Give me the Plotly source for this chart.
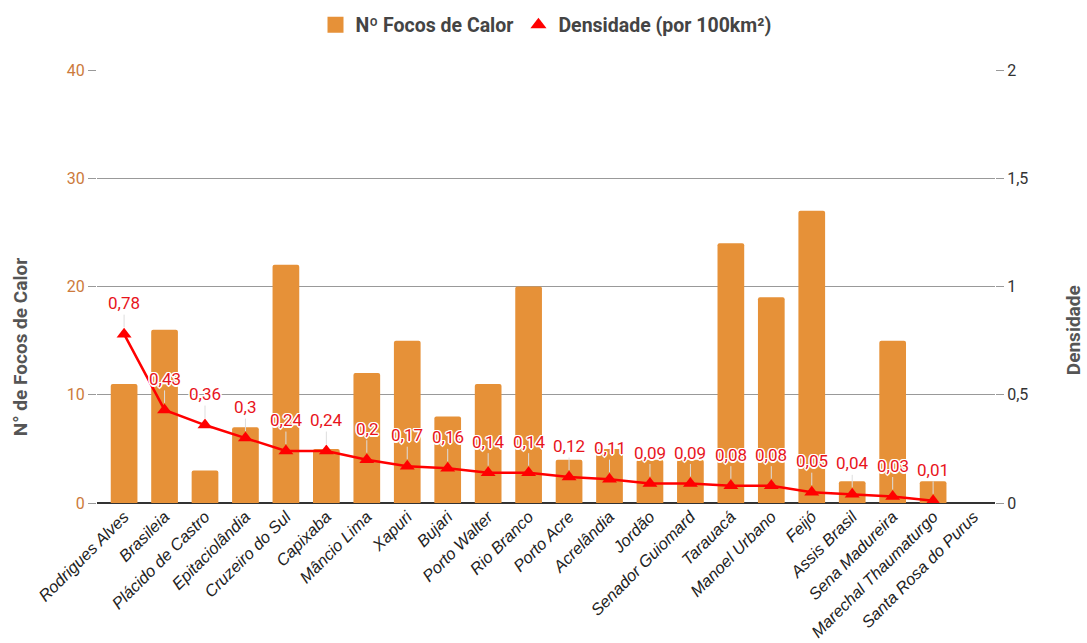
import plotly.graph_objects as go

categories = ["Rodrigues Alves", "Brasileia", "Plácido de Castro", "Epitaciolândia",
              "Cruzeiro do Sul", "Capixaba", "Mâncio Lima", "Xapuri", "Bujari",
              "Porto Walter", "Rio Branco", "Porto Acre", "Acrelândia", "Jordão",
              "Senador Guiomard", "Tarauacá", "Manoel Urbano", "Feijó", "Assis Brasil",
              "Sena Madureira", "Marechal Thaumaturgo", "Santa Rosa do Purus"]
focos = [11, 16, 3, 7, 22, 5, 12, 15, 8, 11, 20, 4, 5, 4, 4, 24, 19, 27, 2, 15, 2, None]
densidade = [0.78, 0.43, 0.36, 0.3, 0.24, 0.24, 0.2, 0.17, 0.16, 0.14, 0.14, 0.12,
             0.11, 0.09, 0.09, 0.08, 0.08, 0.05, 0.04, 0.03, 0.01, None]

ORANGE = "#E69138"
RED = "#FF0000"
TITLE_FONT = dict(family="Roboto", size=19, color="#555", weight="bold")

fig = go.Figure()
fig.add_trace(go.Bar(
    x=categories, y=focos, name="Nº Focos de Calor",
    marker=dict(color=ORANGE, cornerradius=2, line=dict(width=0)),
    width=0.66, yaxis="y", hoverinfo="x+y", showlegend=False,
))
fig.add_trace(go.Scatter(
    x=categories, y=densidade, name="Densidade (por 100km²)",
    mode="lines+markers", yaxis="y2",
    line=dict(color=RED, width=2.5),
    marker=dict(symbol="triangle-up", size=13, color=RED),
    showlegend=False, connectgaps=False,
))
# legend-only entries
fig.add_trace(go.Scatter(
    x=[None], y=[None], name="Nº Focos de Calor", mode="markers",
    marker=dict(symbol="square", size=16, color=ORANGE), yaxis="y",
))
fig.add_trace(go.Scatter(
    x=[None], y=[None], name="Densidade (por 100km²)", mode="markers",
    marker=dict(symbol="triangle-up", size=14, color=RED), yaxis="y2",
))

halo = ("-1px -1px 0 #fff, 1px -1px 0 #fff, -1px 1px 0 #fff, 1px 1px 0 #fff, "
        "0 -1.5px 0 #fff, 0 1.5px 0 #fff, -1.5px 0 0 #fff, 1.5px 0 0 #fff")
annotations = []
for c, v in zip(categories, densidade):
    if v is None:
        continue
    annotations.append(dict(
        x=c, y=v, xref="x", yref="y2",
        text=f"{v:g}".replace(".", ","),
        showarrow=True, ax=0, ay=-31, arrowhead=0, arrowwidth=1,
        arrowcolor="#dddddd", standoff=7,
        font=dict(family="Roboto", size=17, color="#E8141C", shadow=halo),
        bgcolor="rgba(0,0,0,0)",
    ))

# axis titles placed as rotated text
annotations.append(dict(text="N° de Focos de Calor", xref="paper", yref="paper",
                        x=-0.0857, y=0.360, showarrow=False, textangle=-90,
                        xanchor="center", yanchor="middle", font=TITLE_FONT))
annotations.append(dict(text="Densidade", xref="paper", yref="paper",
                        x=1.087, y=0.3995, showarrow=False, textangle=-90,
                        xanchor="center", yanchor="middle", font=TITLE_FONT))

fig.update_layout(
    width=1087, height=643,
    paper_bgcolor="white", plot_bgcolor="white",
    margin=dict(l=97, r=92, t=70, b=140, autoexpand=False),
    separators=",.",
    font=dict(family="Roboto", color="#333"),
    legend=dict(orientation="h", x=0.5, xanchor="center", y=0.961, yanchor="middle",
                yref="container",
                font=dict(family="Roboto", size=19.5, color="#444", weight="bold"),
                itemwidth=30, traceorder="normal"),
    xaxis=dict(
        range=[-0.67, 21.53], tickangle=-45, automargin=False,
        tickfont=dict(family="Liberation Sans", size=16.5, color="#222", style="italic"),
        showgrid=False, showline=False, ticks="", zeroline=False,
    ),
    yaxis=dict(
        range=[0, 40], tickvals=[0, 10, 20, 30, 40], automargin=False,
        tickfont=dict(family="Roboto", size=16, color="#CC7A3C"),
        showgrid=True, gridcolor="#999999", gridwidth=1,
        ticks="outside", ticklen=8, tickcolor="#999999",
        zeroline=True, zerolinecolor="#333333", zerolinewidth=1.5,
    ),
    yaxis2=dict(
        range=[0, 2], tickvals=[0, 0.5, 1, 1.5, 2], overlaying="y", side="right",
        automargin=False,
        tickfont=dict(family="Roboto", size=16, color="#333"),
        showgrid=False, zeroline=False,
        ticks="outside", ticklen=8, tickcolor="#999999",
    ),
    annotations=annotations,
)

fig.write_html(
    "out.html",
    config={"displayModeBar": False},
    post_script="document.body.style.margin='0';document.body.style.overflow='hidden';",
)
